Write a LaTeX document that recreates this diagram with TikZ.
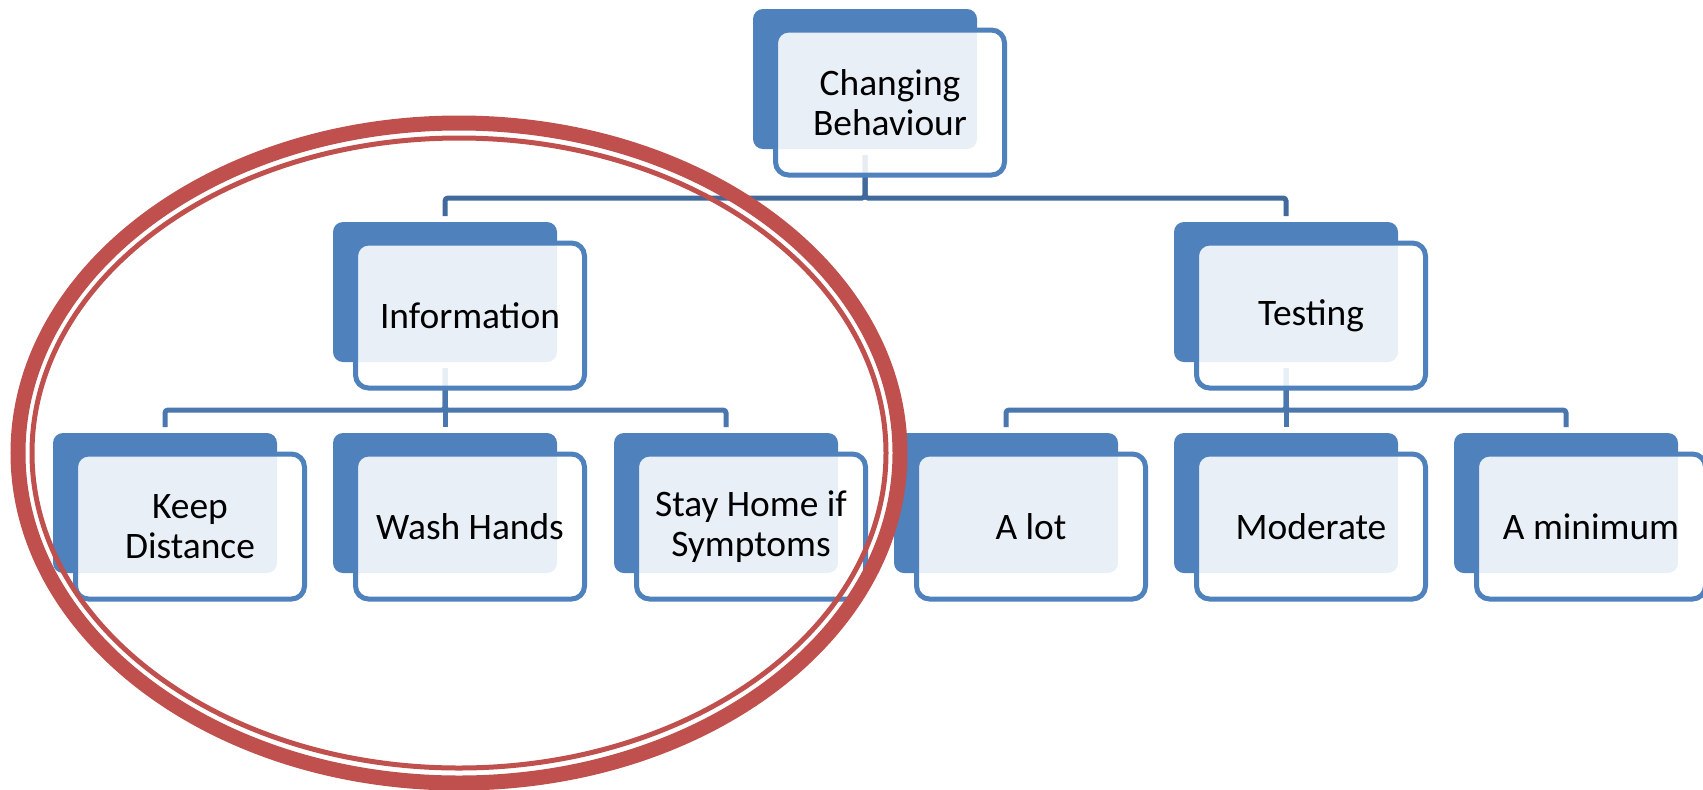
\documentclass[tikz,border=0pt]{standalone}
\usepackage{fontspec}
\setmainfont{Carlito}
\usetikzlibrary{calc}
\usetikzlibrary{backgrounds}

\definecolor{boxblue}{HTML}{4F81BD}
\definecolor{linkblue}{HTML}{4A77AD}
\definecolor{topblue}{HTML}{41699B}
\definecolor{ringred}{HTML}{C0504D}

\tikzset{
  backbox/.style={fill=boxblue, rounded corners=5pt, minimum width=112pt, minimum height=70pt,
    inner sep=0pt, outer sep=0pt, anchor=north west},
  frontbox/.style={draw=boxblue, line width=2.5pt, fill=white, fill opacity=0.88, text opacity=1,
    rounded corners=6.5pt, minimum width=114.5pt, minimum height=72.5pt, inner sep=0pt,
    outer sep=0pt, align=center, anchor=north west, font=\fontsize{18.7}{19.7}\selectfont},
  link/.style={linkblue, line width=2.5pt, rounded corners=1.5pt},
}

% boite double : nom, x, y (coin haut-gauche du fond), texte
\newcommand{\twobox}[4]{%
  \node[backbox] (#1-b) at (#2,#3) {};
  \node[frontbox] (#1) at (#2+22.5,#3+21) {#4};
}

\begin{document}
\begin{tikzpicture}[x=0.5pt,y=-0.5pt]
  \useasboundingbox (0,0) rectangle (1703,789);

  % niveau 0
  \twobox{top}{753}{9}{Changing\\Behaviour}
  % niveau 1
  \twobox{info}{333}{222}{Information}
  \twobox{testing}{1174}{222}{Testing}
  % niveau 2
  \twobox{keep}{53}{433}{Keep\\Distance}
  \twobox{wash}{333}{433}{Wash Hands}
  \twobox{stay}{614}{433}{Stay Home if\\Symptoms}
  \twobox{alot}{894}{433}{A lot}
  \twobox{moderate}{1174}{433}{Moderate}
  \twobox{minimum}{1454}{433}{A minimum}

  % liaisons (derriere les boites)
  \begin{scope}[on background layer]
    \fill[white] (0,0) rectangle (1703,789);
    \foreach \c in {info,testing}
      \draw[link, topblue] ($(top-b.south)+(0,6)$) -- ($(top-b.south)+(0,49)$) -| ($(\c-b.north)-(0,6)$);
    \foreach \c in {keep,wash,stay}
      \draw[link] ($(info-b.south)+(0,6)$) -- ($(info-b.south)+(0,48)$) -| ($(\c-b.north)-(0,6)$);
    \foreach \c in {alot,moderate,minimum}
      \draw[link] ($(testing-b.south)+(0,6)$) -- ($(testing-b.south)+(0,48)$) -| ($(\c-b.north)-(0,6)$);
  \end{scope}

  % ellipse rouge double
  \draw[ringred, line width=7.5pt] (459,453) ellipse [x radius=441, y radius=330];
  \draw[ringred, line width=2.5pt] (459,453) ellipse [x radius=427, y radius=315];
\end{tikzpicture}
\end{document}
